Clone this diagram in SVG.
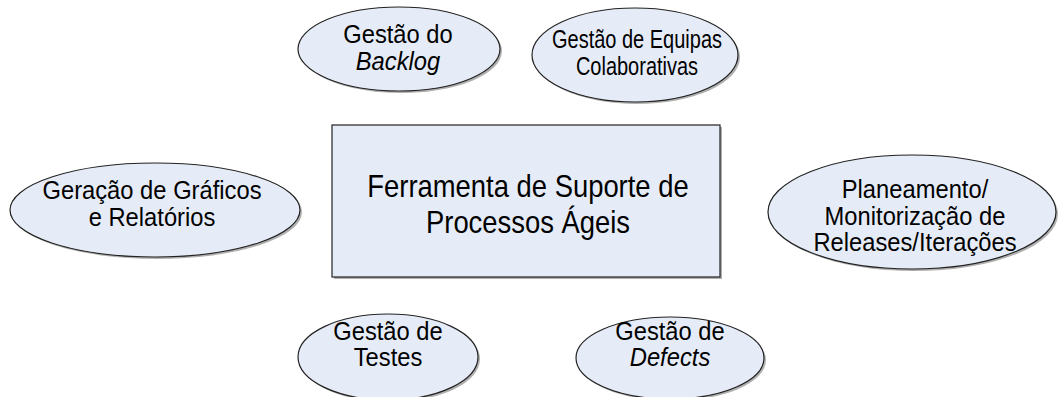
<svg xmlns="http://www.w3.org/2000/svg" width="1058" height="397" viewBox="0 0 1058 397">
<style>
.shape{fill:#E6ECF7;stroke:#222;stroke-width:1.2}
.shadow{fill:#b0b0b0;stroke:none}
.t{font-family:"Liberation Sans",Arial,sans-serif;font-size:25px;fill:#000;text-anchor:middle}
.i{font-style:italic}
.m{font-family:"Liberation Sans",Arial,sans-serif;font-size:31.5px;fill:#000;text-anchor:middle}
</style>
<rect width="1058" height="397" fill="#fff"/>
<g id="connectors"></g>
<g id="center">
<rect class="shadow" x="334" y="127" width="388" height="152"/>
<rect class="shape" x="332" y="125" width="388" height="152"/>
<g transform="translate(528,0) scale(0.87,1)">
<text class="m" x="0" y="197">Ferramenta de Suporte de</text>
<text class="m" x="0" y="233">Processos Ágeis</text>
</g>
</g>
<g id="backlog">
<ellipse class="shadow" cx="401" cy="51" rx="101" ry="42"/>
<ellipse class="shape" cx="399" cy="49" rx="101" ry="42"/>
<g transform="translate(398,0) scale(0.95,1)">
<text class="t" x="0" y="43">Gestão do</text>
<text class="t i" x="0" y="70">Backlog</text>
</g>
</g>
<g id="equipas">
<ellipse class="shadow" cx="637" cy="57" rx="103" ry="47"/>
<ellipse class="shape" cx="635" cy="55" rx="103" ry="47"/>
<g transform="translate(637,0) scale(0.8,1)">
<text class="t" x="0" y="48">Gestão de Equipas</text>
<text class="t" x="0" y="75">Colaborativas</text>
</g>
</g>
<g id="graficos">
<ellipse class="shadow" cx="157" cy="212" rx="145" ry="47"/>
<ellipse class="shape" cx="155" cy="210" rx="145" ry="47"/>
<g transform="translate(152,0) scale(0.95,1)">
<text class="t" x="0" y="199">Geração de Gráficos</text>
<text class="t" x="0" y="226">e Relatórios</text>
</g>
</g>
<g id="planeamento">
<ellipse class="shadow" cx="914" cy="214" rx="144" ry="57"/>
<ellipse class="shape" cx="912" cy="212" rx="144" ry="57"/>
<g transform="translate(915,0) scale(0.95,1)">
<text class="t" x="0" y="198">Planeamento/</text>
<text class="t" x="0" y="225">Monitorização de</text>
<text class="t" x="0" y="251">Releases/Iterações</text>
</g>
</g>
<g id="testes">
<ellipse class="shadow" cx="390" cy="359" rx="90" ry="43"/>
<ellipse class="shape" cx="388" cy="357" rx="90" ry="43"/>
<g transform="translate(388,0) scale(0.95,1)">
<text class="t" x="0" y="340">Gestão de</text>
<text class="t" x="0" y="366">Testes</text>
</g>
</g>
<g id="defects">
<ellipse class="shadow" cx="672" cy="360" rx="94" ry="41"/>
<ellipse class="shape" cx="670" cy="358" rx="94" ry="41"/>
<g transform="translate(670,0) scale(0.95,1)">
<text class="t" x="0" y="340">Gestão de</text>
<text class="t i" x="0" y="366">Defects</text>
</g>
</g>
</svg>
